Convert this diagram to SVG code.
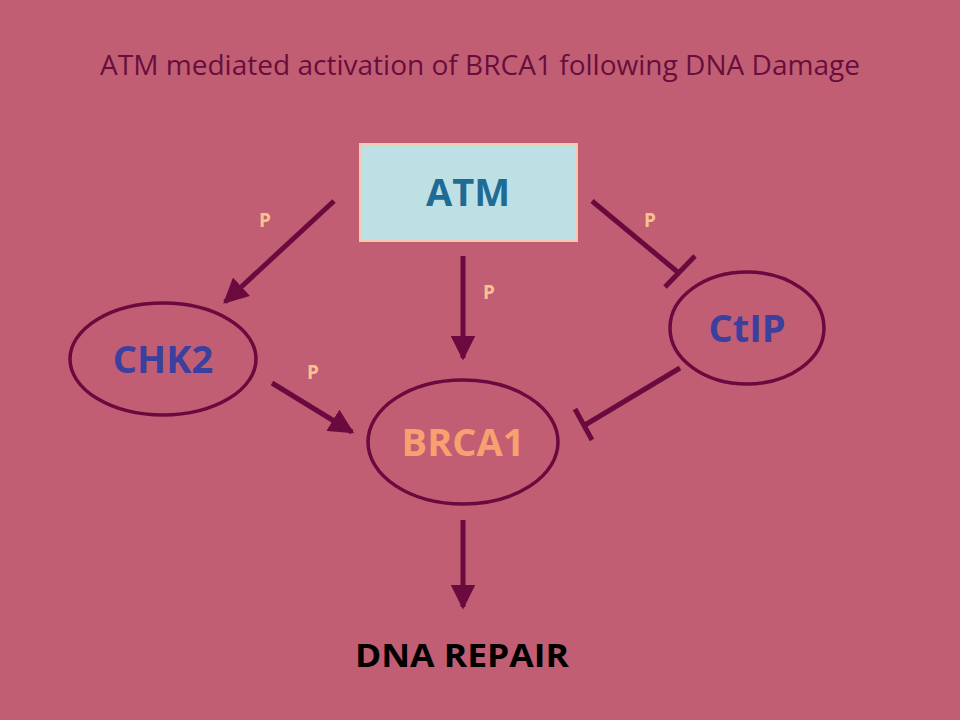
<svg xmlns="http://www.w3.org/2000/svg" width="960" height="720" viewBox="0 0 960 720">
<defs>
<style>
.bg{fill:#C25E73}
.title{font-family:"Open Sans","Liberation Sans",sans-serif;font-size:27px;fill:#680E3C}
.node{fill:none;stroke:#6B0A3E;stroke-width:3.5}
.lbl{font-family:"Open Sans","Liberation Sans",sans-serif;font-weight:bold;text-anchor:middle}
.big{font-size:38px;fill:#3B3F9E}
.p{font-family:"Open Sans","Liberation Sans",sans-serif;font-weight:bold;font-size:19px;fill:#F7C28F;text-anchor:middle}
.edge{stroke:#6B0A3E;stroke-width:5;fill:none}
.bar{stroke:#6B0A3E;stroke-width:5}
</style>
<marker id="arr" viewBox="0 0 10 10" refX="9" refY="5" markerWidth="5" markerHeight="5" orient="auto" markerUnits="strokeWidth">
<path d="M0,0 L10,5 L0,10 Z" fill="#6B0A3E"/>
</marker>
</defs>
<rect class="bg" x="0" y="0" width="960" height="720"/>
<text class="title" x="480" y="75" text-anchor="middle" textLength="760" lengthAdjust="spacingAndGlyphs">ATM mediated activation of BRCA1 following DNA Damage</text>

<g id="atm">
<rect x="360" y="144" width="217" height="97" fill="#BDE0E5" stroke="#F5C8B0" stroke-width="2"/>
<text class="lbl" x="468" y="206" font-size="38" fill="#1F6B94">ATM</text>
</g>
<g id="chk2">
<ellipse class="node" cx="163" cy="359" rx="93" ry="56"/>
<text class="lbl big" x="163" y="373">CHK2</text>
</g>
<g id="ctip">
<ellipse class="node" cx="747" cy="328" rx="77" ry="56"/>
<text class="lbl big" x="747" y="342">CtIP</text>
</g>
<g id="brca1">
<ellipse class="node" cx="463" cy="442" rx="95" ry="62"/>
<text class="lbl" x="463" y="456" font-size="38" fill="#F7A070">BRCA1</text>
</g>
<g id="dnarepair">
<text class="lbl" x="462" y="667" font-size="33" fill="#000" textLength="214" lengthAdjust="spacingAndGlyphs">DNA REPAIR</text>
</g>

<g id="connectors">
<line class="edge" x1="334" y1="201" x2="225" y2="302" marker-end="url(#arr)"/>
<line class="edge" x1="463" y1="256" x2="463" y2="358" marker-end="url(#arr)"/>
<line class="edge" x1="592" y1="201" x2="680" y2="274"/>
<line class="bar" x1="665" y1="287" x2="695" y2="256"/>
<line class="edge" x1="272" y1="383" x2="352" y2="432" marker-end="url(#arr)"/>
<line class="edge" x1="680" y1="368" x2="585" y2="425"/>
<line class="bar" x1="575" y1="409" x2="592" y2="440"/>
<line class="edge" x1="463" y1="520" x2="463" y2="607" marker-end="url(#arr)"/>
</g>
<g id="labels">
<text class="p" x="265" y="227">P</text>
<text class="p" x="650" y="227">P</text>
<text class="p" x="489" y="299">P</text>
<text class="p" x="313" y="379">P</text>
</g>
</svg>
